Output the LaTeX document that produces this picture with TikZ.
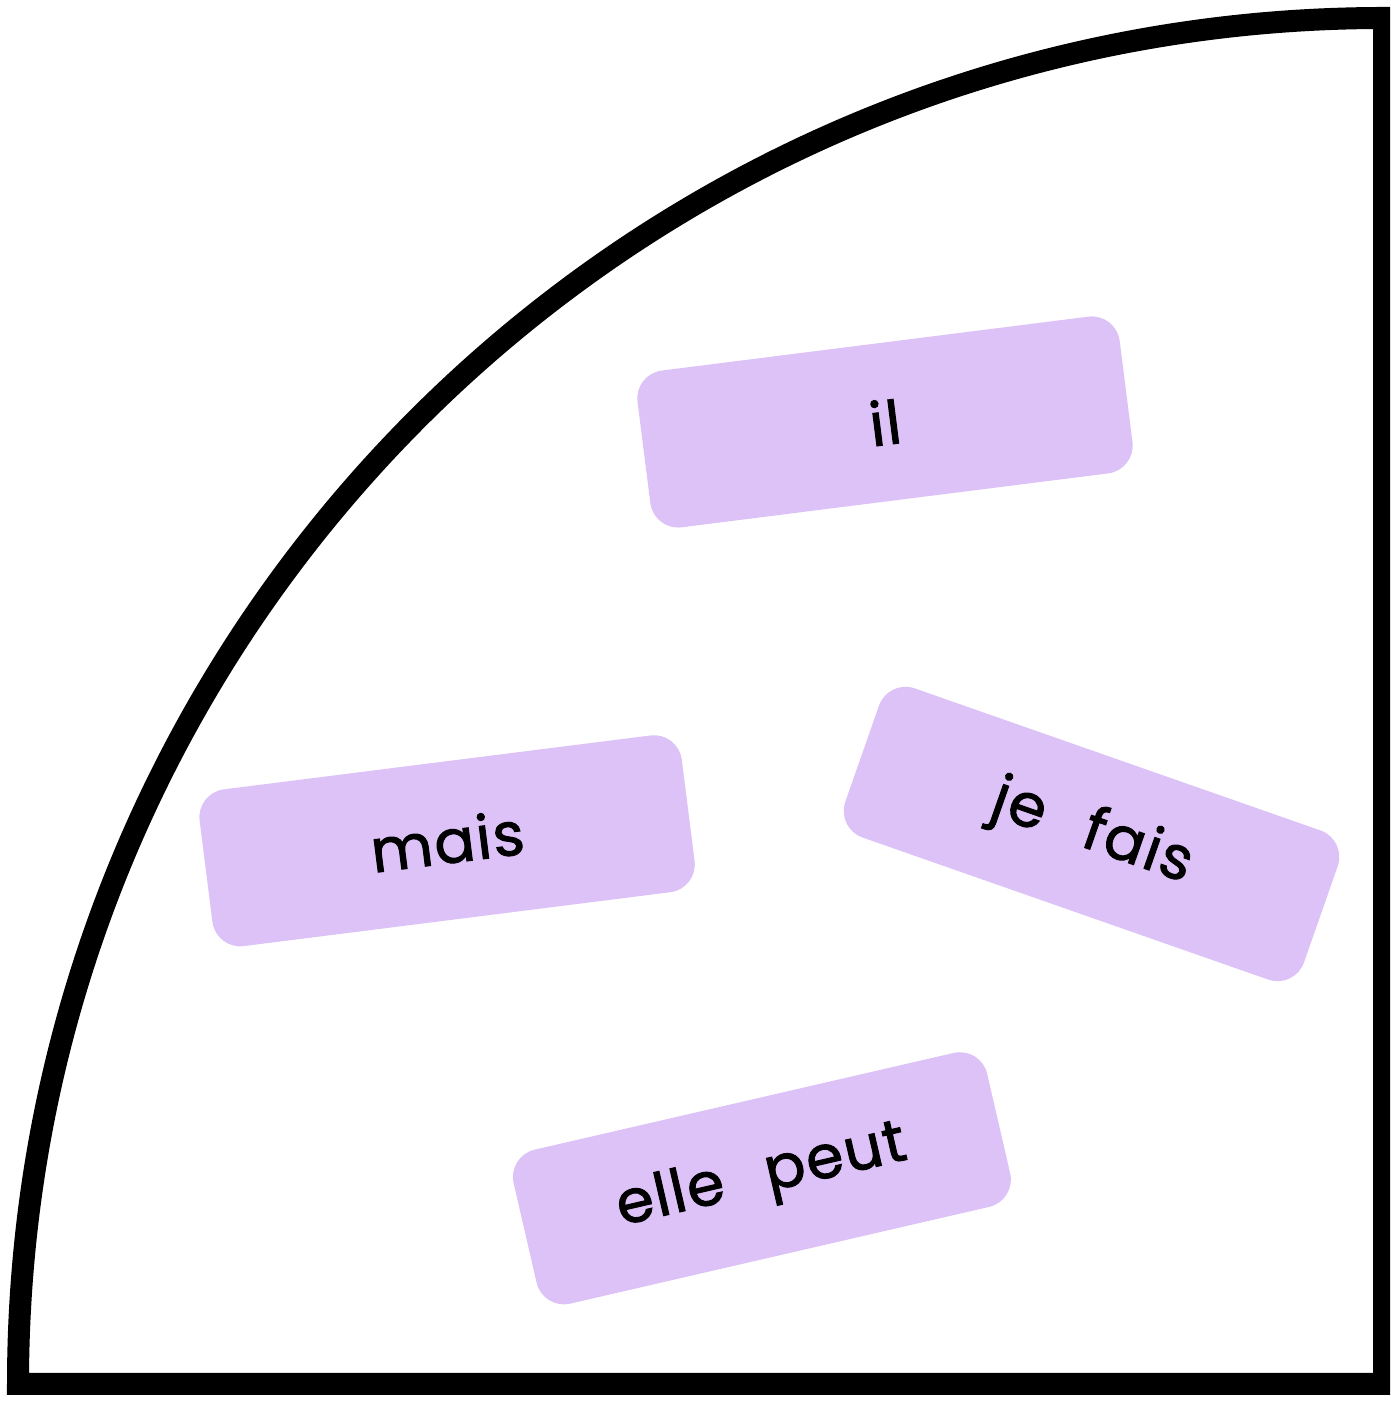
\documentclass[tikz,border=0pt]{standalone}
\usepackage{fontspec}
\setmainfont{Poppins}[LetterSpace=3,WordSpace=2.4,FakeBold=1.6]
\definecolor{lilac}{HTML}{DCC2F7}
\begin{document}
\begin{tikzpicture}[x=1pt,y=1pt,
  card/.style={draw=none, fill=lilac, rounded corners=28pt, minimum height=158pt,
    minimum width=486pt, inner sep=0pt, text=black, font=\fontsize{60}{72}\selectfont},
  frame/.style={draw=black, line width=22pt, line join=miter}]
\useasboundingbox (0,0) rectangle (1390,1407);
\clip (0,0) rectangle (1390,1407);
\coordinate (o) at (1384,23);
\coordinate (top) at (1384,1389);
\draw[frame] (top) arc[start angle=90, end angle=180, radius=1366pt] -- (o) -- cycle;
\node[card, rotate=7.2] (il) at (885,985) {il};
\node[card, rotate=7.2] (mais) at (447.1,566.2) {mais};
\node[card, rotate=-19.3] (jefais) at (1091.5,573) {je fais};
\node[card, rotate=13] (ellepeut) at (761.9,228.7) {elle peut};
\end{tikzpicture}
\end{document}
